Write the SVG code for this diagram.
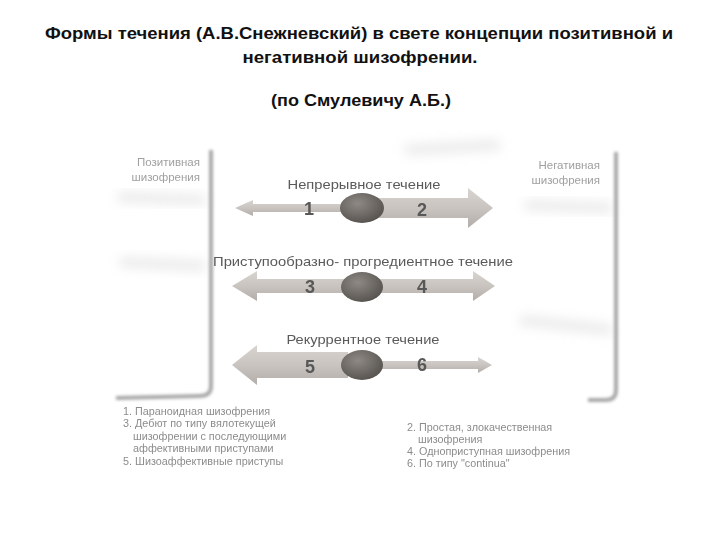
<svg xmlns="http://www.w3.org/2000/svg" width="720" height="540" viewBox="0 0 720 540">
<defs>
  <linearGradient id="shaft" x1="0" y1="0" x2="0" y2="1">
    <stop offset="0" stop-color="#d8d4d0"/>
    <stop offset="0.5" stop-color="#c9c4bf"/>
    <stop offset="1" stop-color="#b2ada8"/>
  </linearGradient>
  <radialGradient id="knob" cx="0.4" cy="0.35" r="0.7">
    <stop offset="0" stop-color="#8e8984"/>
    <stop offset="0.7" stop-color="#66625e"/>
    <stop offset="1" stop-color="#55514d"/>
  </radialGradient>
  <filter id="blur" x="-20%" y="-20%" width="140%" height="140%">
    <feGaussianBlur stdDeviation="1.8"/>
  </filter>
  <filter id="soft" x="-10%" y="-50%" width="120%" height="200%">
    <feGaussianBlur stdDeviation="0.6"/>
  </filter>
  <filter id="smudge" x="-20%" y="-300%" width="140%" height="700%">
    <feGaussianBlur stdDeviation="6"/>
  </filter>
</defs>
<style>
  .title{font-family:"Liberation Sans",Arial,sans-serif;font-weight:bold;font-size:17px;fill:#111;text-anchor:middle}
  .lbl{font-family:"Liberation Sans",Arial,sans-serif;font-size:13.5px;fill:#5a5a5a;text-anchor:middle}
  .side{font-family:"Liberation Sans",Arial,sans-serif;font-size:11.5px;fill:#a0a0a0;text-anchor:end}
  .num{font-family:"Liberation Sans",Arial,sans-serif;font-weight:bold;font-size:18px;fill:#585858;text-anchor:middle}
  .list{font-family:"Liberation Sans",Arial,sans-serif;font-size:10.8px;fill:#8c8c8c}
  .arrow{fill:url(#shaft);filter:url(#soft)}
  .knob{fill:url(#knob);filter:url(#soft)}
  .bracket{fill:none;stroke:#a8a8a8;stroke-width:4;filter:url(#blur)}
  .smear{fill:none;stroke:#d4d4d4;stroke-width:10;filter:url(#smudge)}
</style>
<rect width="720" height="540" fill="#ffffff"/>

<g id="title">
  <text class="title" x="359" y="39" textLength="628" lengthAdjust="spacingAndGlyphs">Формы течения (А.В.Снежневский) в свете концепции позитивной и</text>
  <text class="title" x="360" y="63" textLength="235" lengthAdjust="spacingAndGlyphs">негативной шизофрении.</text>
  <text class="title" x="361" y="106" textLength="180" lengthAdjust="spacingAndGlyphs">(по Смулевичу А.Б.)</text>
</g>

<g id="smudges" opacity="0.5">
  <path class="smear" d="M118,197 L205,200"/>
  <path class="smear" d="M120,262 L205,266"/>
  <path class="smear" d="M525,205 L612,208"/>
  <path class="smear" d="M520,320 L612,330"/>
  <path class="smear" d="M405,150 L500,145"/>
</g>

<g id="left-bracket">
  <path class="bracket" d="M211,150 L211,386 Q211,396 200,396 L116,398"/>
  <text class="side" x="200" y="166">Позитивная</text>
  <text class="side" x="200" y="181">шизофрения</text>
</g>

<g id="right-bracket">
  <path class="bracket" d="M616,152 L616,390 Q616,400 606,400 L588,400"/>
  <text class="side" x="600" y="169">Негативная</text>
  <text class="side" x="600" y="184">шизофрения</text>
</g>

<g id="connectors">
  <g id="row-continuous">
    <text class="lbl" x="364" y="189" textLength="153" lengthAdjust="spacingAndGlyphs">Непрерывное течение</text>
    <path class="arrow" d="M235,208 L253,200 L253,204 L348,204 L348,212 L253,212 L253,216 Z"/>
    <path class="arrow" d="M378,198 L468,198 L468,188 L493,208 L468,228 L468,218 L378,218 Z"/>
    <ellipse class="knob" cx="362" cy="208" rx="22" ry="15"/>
    <text class="num" x="309" y="215">1</text>
    <text class="num" x="422" y="216">2</text>
  </g>
  <g id="row-shiftlike">
    <text class="lbl" x="363" y="266" textLength="300" lengthAdjust="spacingAndGlyphs">Приступообразно- прогредиентное течение</text>
    <path class="arrow" d="M232,286 L257,271 L257,279 L348,279 L348,293 L257,293 L257,301 Z"/>
    <path class="arrow" d="M378,279 L473,279 L473,271 L495,286 L473,301 L473,293 L378,293 Z"/>
    <ellipse class="knob" cx="362" cy="287" rx="21" ry="15"/>
    <text class="num" x="310" y="293">3</text>
    <text class="num" x="422" y="293">4</text>
  </g>
  <g id="row-recurrent">
    <text class="lbl" x="363" y="344" textLength="153" lengthAdjust="spacingAndGlyphs">Рекуррентное течение</text>
    <path class="arrow" d="M232,365 L257,345 L257,352 L348,352 L348,378 L257,378 L257,385 Z"/>
    <path class="arrow" d="M378,361 L478,361 L478,357 L492,365 L478,373 L478,369 L378,369 Z"/>
    <ellipse class="knob" cx="362" cy="365" rx="21" ry="15"/>
    <text class="num" x="310" y="373">5</text>
    <text class="num" x="422" y="371">6</text>
  </g>
</g>

<g id="list-positive">
  <text class="list" x="123" y="415">1. Параноидная шизофрения</text>
  <text class="list" x="123" y="427">3. Дебют по типу вялотекущей</text>
  <text class="list" x="133" y="440">шизофрении с последующими</text>
  <text class="list" x="133" y="452">аффективными приступами</text>
  <text class="list" x="123" y="465">5. Шизоаффективные приступы</text>
</g>

<g id="list-negative">
  <text class="list" x="407" y="431">2. Простая, злокачественная</text>
  <text class="list" x="418" y="443">шизофрения</text>
  <text class="list" x="407" y="455">4. Одноприступная шизофрения</text>
  <text class="list" x="407" y="467">6. По типу "continua"</text>
</g>
</svg>
